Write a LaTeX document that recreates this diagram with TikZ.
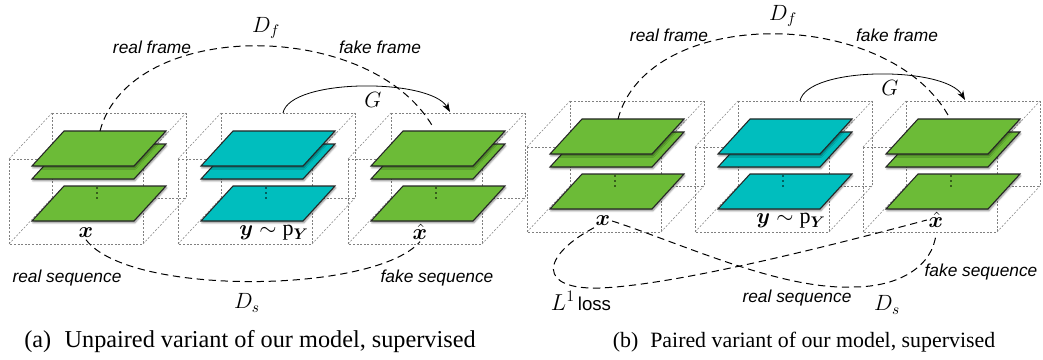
\documentclass[tikz,border=0pt]{standalone}
\usepackage{amsmath}
\usepackage{bm}
\usepackage{fontspec}
\setmainfont{Liberation Serif}
\newfontfamily\labelsans{Liberation Sans}
\usetikzlibrary{arrows.meta,shadows.blur}

\definecolor{framegreen}{RGB}{108,187,55}
\definecolor{framecyan}{RGB}{0,190,190}

\tikzset{
  wire/.style={draw=black!50, line width=0.4pt, dash pattern=on 1.5pt off 1.2pt},
  frameplane/.style={draw=black!85, line width=0.8pt, line join=miter,
    blur shadow={shadow xshift=0.6pt, shadow yshift=-1.4pt,
      shadow blur radius=1.2pt, shadow opacity=45}},
  disc/.style={draw=black, line width=0.75pt, dash pattern=on 5.5pt off 3.5pt},
  gen/.style={draw=black, line width=0.6pt, -{Stealth[length=7pt,width=5pt]}},
  tag/.style={font=\labelsans\itshape\fontsize{13}{15}\selectfont, inner sep=1pt},
  plaintag/.style={font=\labelsans\fontsize{14}{16}\selectfont, inner sep=1pt},
  mlabel/.style={font=\fontsize{14.4}{17}\selectfont, inner sep=1pt, scale=1.15},
  captiontext/.style={inner sep=0pt},
}

% A stack of frames inside a dotted wire-frame box.
% #1,#2: top-left corner of the front face; #3: plane colour; #4: name prefix
\newcommand{\framestack}[4]{%
  \begin{scope}[shift={(#1,#2)}]
    \draw[wire] (43,-46) rectangle (177,39);
    \draw[wire] (0,0) -- (43,-46) (134,0) -- (177,-46)
                (0,85) -- (43,39) (134,85) -- (177,39);
    \draw[wire] (0,0) rectangle (134,85);
    \foreach \t in {27,-15,-28}
      \filldraw[frameplane, fill=#3] (23,\t+35) -- (125,\t+35) -- (157,\t) -- (55,\t) -- cycle;
    \foreach \d in {29,34,39}
      \fill (88,\d) circle (0.7pt);
    \coordinate (#4-top) at (91,-28);
    \coordinate (#4-df) at (85,-32);
    \coordinate (#4-rim) at (105,-46);
    \coordinate (#4-in) at (102,-47);
  \end{scope}}

\begin{document}
\begin{tikzpicture}[x=0.75pt, y=-0.75pt]
  \useasboundingbox (0,0) rectangle (1043,360);

  % ---------------- (a) unpaired ----------------
  \framestack{9}{159}{framegreen}{a1}
  \framestack{178}{159}{framecyan}{a2}
  \framestack{348}{159}{framegreen}{a3}

  \node[mlabel] (xa)  at (86,233)  {$\bm{x}$};
  \node[mlabel] (ya)  at (274,233) {$\bm{y}\sim\mathrm{p}_{\bm{Y}}$};
  \node[mlabel] (xha) at (420,232) {$\hat{\bm{x}}$};

  \draw[disc] (a1-top) .. controls +(30,-113) and +(-63,-109) .. (a3-df);
  \draw[gen]  (a2-rim) .. controls +(7,-35) and +(-20,-34) .. (a3-in);
  \draw[disc] (xa.south) .. controls +(43,57) and +(-45,52) .. (xha.south);

  \node[mlabel] (dfa) at (266,28)  {$D_f$};
  \node[tag]    (rfa) at (152,47)  {real frame};
  \node[tag]    (ffa) at (380,47)  {fake frame};
  \node[mlabel] (ga)  at (373,100) {$G$};
  \node[tag]    (rsa) at (67,278)  {real sequence};
  \node[tag]    (fsa) at (437,278) {fake sequence};
  \node[mlabel] (dsa) at (247,303) {$D_s$};
  \node[captiontext, font=\fontsize{18.2}{22}\selectfont] (capa) at (250,342)
    {(a)\hspace{0.55em}Unpaired variant of our model, supervised};

  % ---------------- (b) paired ----------------
  \framestack{527}{147}{framegreen}{b1}
  \framestack{695}{147}{framecyan}{b2}
  \framestack{863}{147}{framegreen}{b3}

  \node[mlabel] (xb)  at (603,221) {$\bm{x}$};
  \node[mlabel] (yb)  at (791,221) {$\bm{y}\sim\mathrm{p}_{\bm{Y}}$};
  \node[mlabel] (xhb) at (936,220) {$\hat{\bm{x}}$};

  \draw[disc] (b1-top) .. controls +(30,-113) and +(-63,-109) .. (b3-df);
  \draw[gen]  (b2-rim) .. controls +(7,-35) and +(-20,-34) .. (b3-in);

  \coordinate (l1low) at (600,288);
  \coordinate (dslow) at (853,287);
  \draw[disc] (xb.south west) .. controls +(-54,29) and +(-62,2) .. (l1low)
              .. controls +(80,-3) and +(-75,20) .. (xhb.west);
  \draw[disc] (xb.east) .. controls +(68,22) and +(-73,3) .. (dslow)
              .. controls +(47,0) and +(-3,32) .. ([yshift=-3pt]xhb.south);

  \node[mlabel] (dfb) at (783,16)  {$D_f$};
  \node[tag]    (rfb) at (669,35)  {real frame};
  \node[tag]    (ffb) at (897,35)  {fake frame};
  \node[mlabel] (gb)  at (890,88)  {$G$};
  \node[plaintag] (l1b) at (581,301)
    {{\fontsize{17.28}{20}\selectfont$L^1$}\,loss};
  \node[tag]    (rsb) at (797,298) {real sequence};
  \node[mlabel] (dsb) at (887,305) {$D_s$};
  \node[tag]    (fsb) at (981,272) {fake sequence};
  \node[captiontext, font=\fontsize{16.4}{20}\selectfont] (capb) at (804,342)
    {(b)\hspace{0.55em}Paired variant of our model, supervised};
\end{tikzpicture}
\end{document}
